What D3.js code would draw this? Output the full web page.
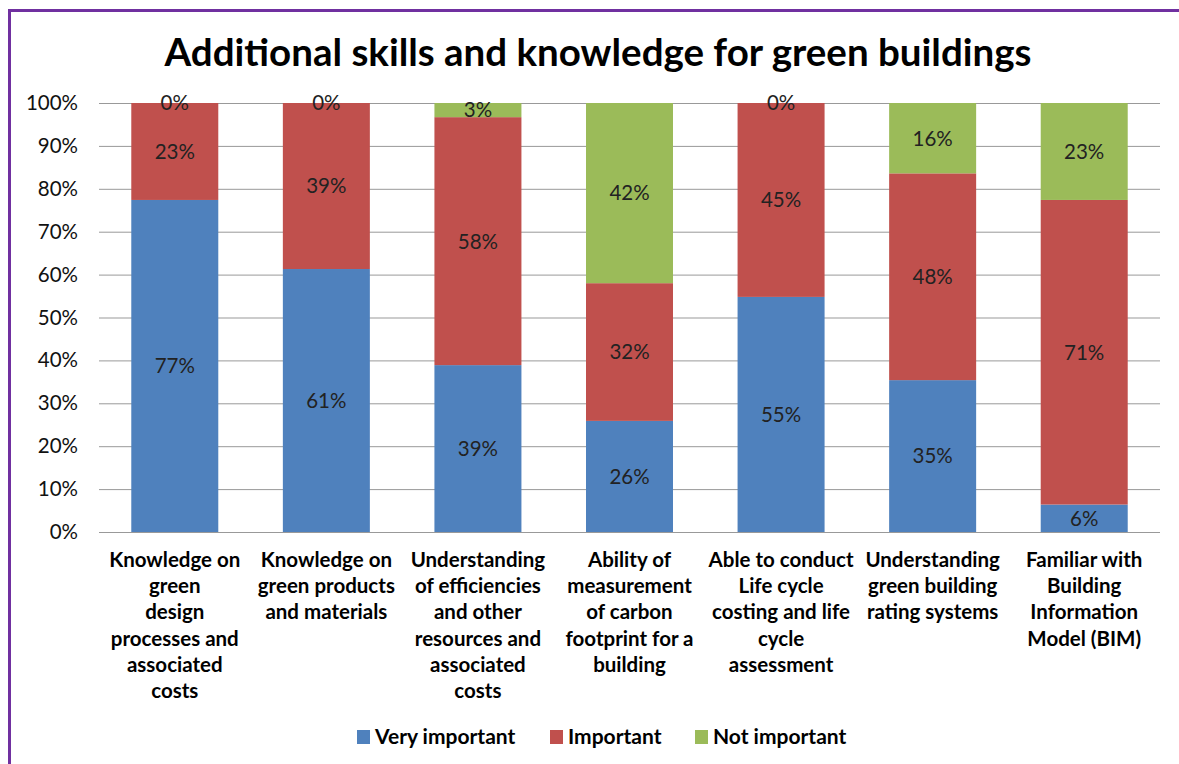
<!DOCTYPE html>
<html><head><meta charset="utf-8">
<script src="https://cdn.jsdelivr.net/npm/d3@7"></script>
<style>body{margin:0;background:#fff;} svg{display:block;font-family:Lato, "Open Sans", sans-serif;}</style>
</head><body>
<svg id="c" width="1179" height="764"></svg>
<script>
const categories = [
  ["Knowledge on","green","design","processes and","associated","costs"],
  ["Knowledge on","green products","and materials"],
  ["Understanding","of efficiencies","and other","resources and","associated","costs"],
  ["Ability of","measurement","of carbon","footprint for a","building"],
  ["Able to conduct","Life cycle","costing and life","cycle","assessment"],
  ["Understanding","green building","rating systems"],
  ["Familiar with","Building","Information","Model (BIM)"]
];
const seriesNames = ["Very important","Important","Not important"];
const veryImportant = [0.774, 0.613, 0.389, 0.259, 0.548, 0.354, 0.064];
const important     = [0.226, 0.387, 0.578, 0.321, 0.452, 0.482, 0.710];
const notImportant  = [0.000, 0.000, 0.033, 0.420, 0.000, 0.164, 0.226];
const tickValues = [0,0.1,0.2,0.3,0.4,0.5,0.6,0.7,0.8,0.9,1.0];
const colors = ["#4F81BD","#C0504D","#9BBB59"];

const svg = d3.select("#c");
// frame
svg.append("line").attr("x1",9.5).attr("x2",1179).attr("y1",10.5).attr("y2",10.5).attr("stroke","#7030A0").attr("stroke-width",3);
svg.append("line").attr("x1",9.5).attr("x2",9.5).attr("y1",9).attr("y2",764).attr("stroke","#7030A0").attr("stroke-width",3);

svg.append("text").attr("x",598).attr("y",66).attr("text-anchor","middle")
  .attr("font-weight","bold").attr("font-size",38.5).attr("fill","#000")
  .text("Additional skills and knowledge for green buildings");

const L=99, R=1160, T=103, B=532;
const x = d3.scaleBand().domain(d3.range(categories.length)).range([L,R]).paddingInner(0.426).paddingOuter(0.213);
const y = d3.scaleLinear().domain([0,1]).range([B,T]);

// gridlines
const yAxis = d3.axisLeft(y).tickValues(tickValues).tickFormat(d3.format(".0%")).tickSize(-(R-L)).tickPadding(21);
const gy = svg.append("g").attr("transform",`translate(${L},0)`).call(yAxis);
gy.select(".domain").remove();
gy.selectAll(".tick line").attr("stroke","#999").attr("stroke-width",1);
gy.selectAll(".tick text").attr("font-size",20.5).attr("fill","#111").attr("font-family","Lato, sans-serif");

const rows = categories.map((c,i)=>({i, v:[veryImportant[i], important[i], notImportant[i]]}));
const stack = d3.stack().keys([0,1,2]).value((d,k)=>d.v[k]);
const layers = stack(rows);

const g = svg.append("g");
layers.forEach((layer,k)=>{
  g.selectAll(null).data(layer).enter().append("rect")
    .attr("x",d=>x(d.data.i)).attr("width",x.bandwidth())
    .attr("y",d=>y(d[1])).attr("height",d=>y(d[0])-y(d[1]))
    .attr("fill",colors[k]);
});
svg.append("line").attr("x1",L).attr("x2",R).attr("y1",B+0.5).attr("y2",B+0.5).attr("stroke","#999");

layers.forEach((layer,k)=>{
  g.selectAll(null).data(layer).enter().append("text")
    .attr("x",d=>x(d.data.i)+x.bandwidth()/2)
    .attr("y",d=>(y(d[0])+y(d[1]))/2).attr("dy","0.36em")
    .attr("text-anchor","middle").attr("font-size",20.5).attr("fill","#222")
    .text(d=>Math.round((d[1]-d[0])*100)+"%");
});

// category labels
categories.forEach((lines,i)=>{
  const cx = x(i)+x.bandwidth()/2;
  const t = svg.append("text").attr("x",cx).attr("y",567)
    .attr("text-anchor","middle").attr("font-weight","bold").attr("font-size",20.5).attr("fill","#000");
  lines.forEach((ln,j)=>t.append("tspan").attr("x",cx).attr("y",567+j*26.2).text(ln));
});

// legend
const legX = [357, 550, 695];
seriesNames.forEach((n,k)=>{
  svg.append("rect").attr("x",legX[k]).attr("y",730).attr("width",13).attr("height",14).attr("fill",colors[k]);
  svg.append("text").attr("x",legX[k]+18).attr("y",744).attr("font-size",21).attr("font-weight","bold").attr("fill","#000").text(n);
});
</script>
</body></html>
